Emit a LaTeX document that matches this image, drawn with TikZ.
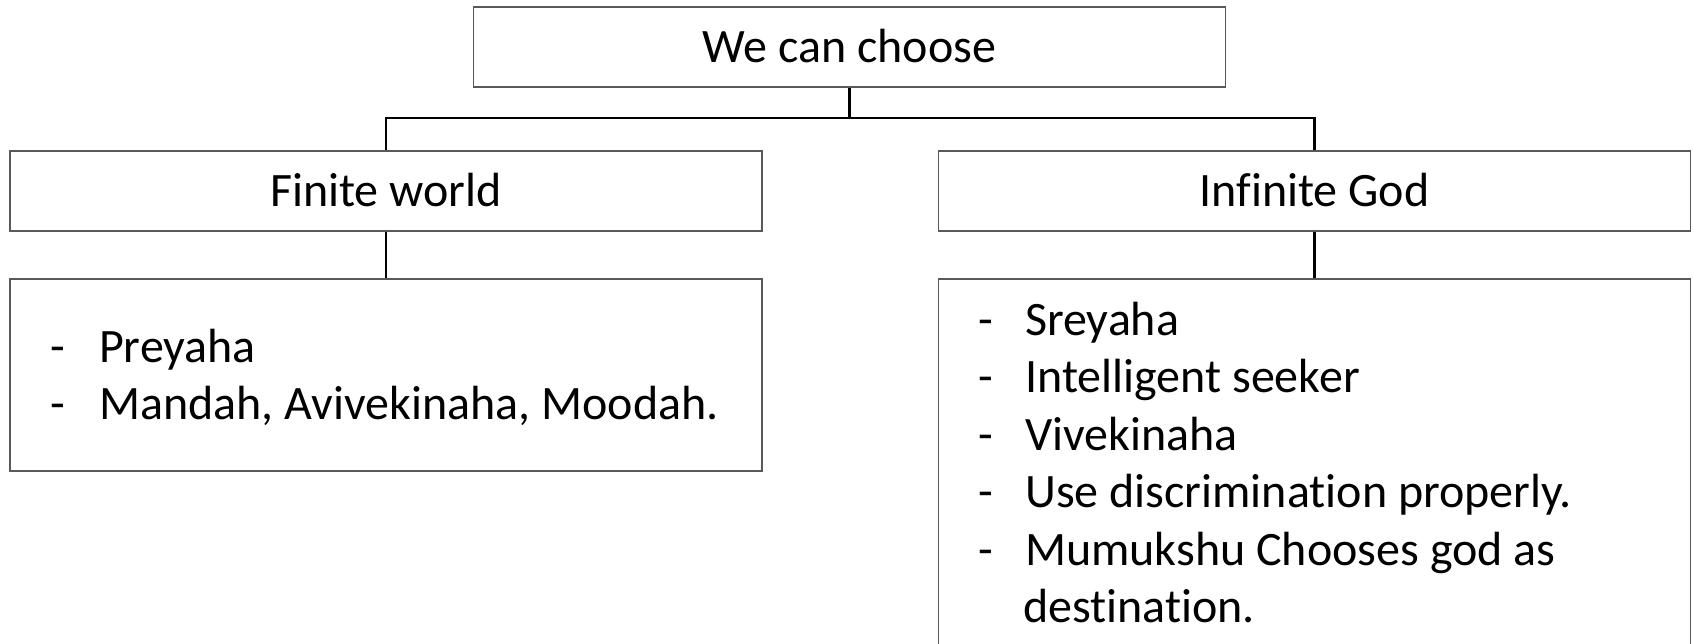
\documentclass[tikz,border=0pt]{standalone}
\usepackage{fontspec}
\setmainfont[Ligatures=NoCommon]{Carlito}
\definecolor{boxline}{RGB}{89,89,89}
\begin{document}
\begin{tikzpicture}[x=1pt,y=-1pt,
  box/.style={draw=boxline,line width=1.4pt,rectangle,inner sep=0pt,
    minimum width=752pt,minimum height=80pt,text height=30.5pt,text depth=0pt},
  listbox/.style={draw=boxline,line width=1.4pt,rectangle,inner sep=0pt,minimum width=752pt},
  conn/.style={draw=black,line width=2.2pt},
  item/.style={anchor=base west,inner sep=0pt}]
\useasboundingbox (0,0) rectangle (1694,643);
\clip (0,0) rectangle (1694,643);
\fontsize{48pt}{57.5pt}\selectfont
\node[box] (top) at (849.5,47) {We can choose};
\node[box] (fw) at (386,191) {Finite world};
\node[box] (ig) at (1314.5,191) {Infinite God};
\node[listbox,minimum height=192pt] (fl) at (386,375) {};
\node[listbox,minimum height=421pt] (gl) at (1314.5,489.5) {};
\coordinate (mid) at (0,118);
\draw[conn] (top.south) -- (top.south |- mid) -| (fw.north);
\draw[conn] (top.south |- mid) -| (ig.north);
\draw[conn] (fw.south) -- (fl.north);
\draw[conn] (ig.south) -- (gl.north);
\node[item] (f1) at (50,362) {\makebox[49pt][l]{-}Preyaha};
\node[item] (f2) at (50,419) {\makebox[49pt][l]{-}Mandah, Avivekinaha, Moodah.};
\node[item] (g1) at (978,335) {\makebox[47pt][l]{-}Sreyaha};
\node[item] (g2) at (978,392.5) {\makebox[47pt][l]{-}Intelligent seeker};
\node[item] (g3) at (978,450) {\makebox[47pt][l]{-}Vivekinaha};
\node[item] (g4) at (978,507.5) {\makebox[47pt][l]{-}Use discrimination properly.};
\node[item] (g5) at (978,565) {\makebox[47pt][l]{-}Mumukshu Chooses god as};
\node[item] (g6) at (1023,622.5) {destination.};
\end{tikzpicture}
\end{document}
